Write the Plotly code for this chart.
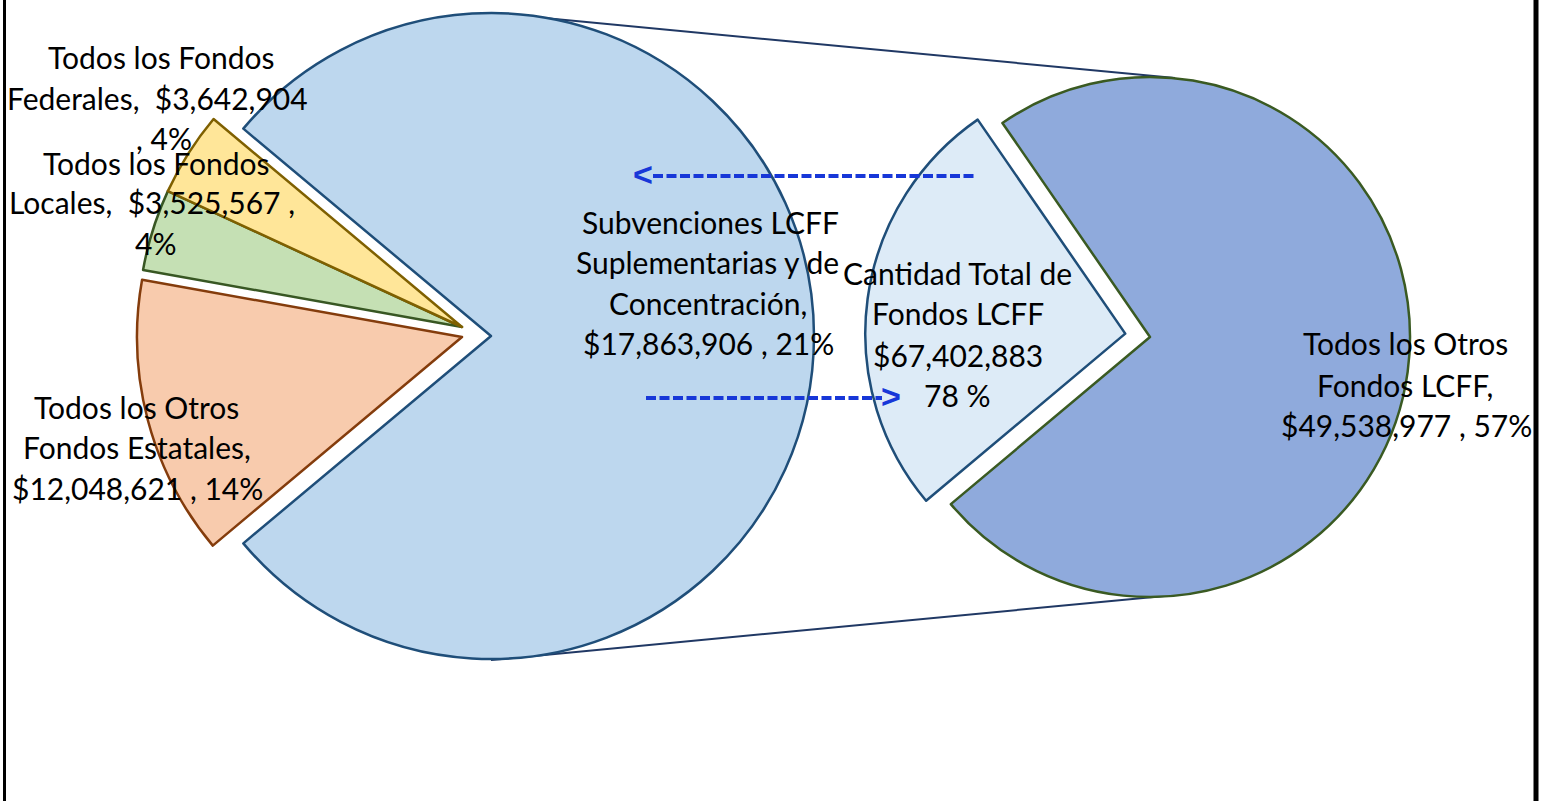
import plotly.graph_objects as go

W, H = 1546, 801

# ---------------- data ----------------
left_labels = ["Todos los Fondos LCFF", "Todos los Otros Fondos Estatales",
               "Todos los Fondos Locales", "Todos los Fondos Federales"]
left_values = [67402883, 12048621, 3525567, 3642904]

right_labels = ["Subvenciones LCFF Suplementarias y de Concentración",
                "Todos los Otros Fondos LCFF"]
right_values = [17863906, 49538977]

total_left = sum(left_values)
pct = lambda v: round(100 * v / total_left)

# ---------------- styles ----------------
FONT = "Lato"
TXT = "#000000"
CLR_BIG, LN_BIG = "#BDD7EE", "#1F4E79"
CLR_STATE, LN_STATE = "#F8CBAD", "#843C0C"
CLR_LOCAL, LN_LOCAL = "#C5E0B4", "#385723"
CLR_FED, LN_FED = "#FFE699", "#7F6000"
CLR_SUB, LN_SUB = "#DDEBF7", "#1F4E79"
CLR_OTH, LN_OTH = "#8FAADC", "#3A5A22"
NONE = "rgba(0,0,0,0)"
ARROW = "#1737D8"
LW = 2.5


def dom(cx, cy, r):
    return dict(x=[(cx - r) / W, (cx + r) / W],
                y=[1 - (cy + r) / H, 1 - (cy - r) / H])


big_frac = left_values[0] / total_left
left_rot = 90 - 180 * big_frac  # centre the LCFF slice on 3 o'clock

fig = go.Figure()


def left_trace(colors, lines, widths, cx, cy, r):
    fig.add_trace(go.Pie(
        labels=left_labels, values=left_values, sort=False,
        direction="clockwise", rotation=left_rot,
        marker=dict(colors=colors, line=dict(color=lines, width=widths)),
        textinfo="none", hoverinfo="label+value+percent", showlegend=False,
        domain=dom(cx, cy, r)))


# LCFF slice (main pie)
left_trace([CLR_BIG, NONE, NONE, NONE], [LN_BIG, NONE, NONE, NONE],
           [LW, 0, 0, 0], 491, 336, 323)
# Federal + Local slices (exploded)
left_trace([NONE, NONE, CLR_LOCAL, CLR_FED], [NONE, NONE, LN_LOCAL, LN_FED],
           [0, 0, LW, LW], 462, 327, 324)
# State slice (exploded)
left_trace([NONE, CLR_STATE, NONE, NONE], [NONE, LN_STATE, NONE, NONE],
           [0, LW, 0, 0], 462, 337, 325)

# second pie
pull_r = 0.096
fig.add_trace(go.Pie(
    labels=right_labels, values=right_values, sort=False,
    direction="clockwise", rotation=-130,
    pull=[pull_r, 0],
    marker=dict(colors=[CLR_SUB, CLR_OTH], line=dict(color=[LN_SUB, LN_OTH], width=LW)),
    textinfo="none", hoverinfo="label+value+percent", showlegend=False,
    domain=dom(1150, 337, 260 * (1 + pull_r))))

# ---------------- labels (one annotation per line) ----------------
fed, loc, sta = left_values[3], left_values[2], left_values[1]
lcff = left_values[0]
sub, oth = right_values

label_lines = [
    ("Todos los Fondos", 161, 67),
    (f"Federales,  ${fed:,}", 157, 108),
    (f", {pct(fed)}%", 164, 148),
    ("Todos los Fondos", 156, 173),
    (f"Locales,  ${loc:,} ,", 152, 212),
    (f"{pct(loc)}%", 155, 253),
    ("Todos los Otros", 136, 417),
    ("Fondos Estatales,", 137, 457),
    (f"${sta:,} , {pct(sta)}%", 137, 498),
    ("Subvenciones LCFF", 710, 232),
    ("Suplementarias y de", 707, 272),
    ("Concentración,", 708, 313),
    (f"${sub:,} , {pct(sub)}%", 708, 353),
    ("Cantidad Total de", 957, 283),
    ("Fondos LCFF", 958, 323),
    (f"${lcff:,}", 958, 365),
    (f"{pct(lcff)} %", 957, 405),
    ("Todos los Otros", 1405, 353),
    ("Fondos LCFF,", 1405, 395),
    (f"${oth:,} , {pct(oth)}%", 1406, 435),
]

FS = 30
annotations = []
for text, x, base in label_lines:
    annotations.append(dict(
        text=text, x=x / W, y=1 - (base - 0.33 * FS) / H, xref="paper", yref="paper",
        xanchor="center", yanchor="middle", showarrow=False,
        font=dict(family=FONT, size=FS, color=TXT)))

# arrow heads
annotations.append(dict(text="<b>&lt;</b>", x=643 / W, y=1 - 174 / H, xref="paper", yref="paper",
                        xanchor="center", yanchor="middle", showarrow=False,
                        font=dict(family="Liberation Sans", size=34, color=ARROW)))
annotations.append(dict(text="<b>&gt;</b>", x=891 / W, y=1 - 396 / H, xref="paper", yref="paper",
                        xanchor="center", yanchor="middle", showarrow=False,
                        font=dict(family="Liberation Sans", size=34, color=ARROW)))

shapes = [
    # series lines
    dict(type="line", xref="paper", yref="paper", x0=491 / W, y0=1 - 13 / H,
         x1=1175 / W, y1=1 - 78 / H, line=dict(color="#203864", width=2), layer="below"),
    dict(type="line", xref="paper", yref="paper", x0=491 / W, y0=1 - 660 / H,
         x1=1175 / W, y1=1 - 595 / H, line=dict(color="#203864", width=2), layer="below"),
    # dashed arrows
    dict(type="line", xref="paper", yref="paper", x0=653 / W, y0=1 - 176 / H,
         x1=977 / W, y1=1 - 176 / H, line=dict(color=ARROW, width=4, dash="10px,3.5px")),
    dict(type="line", xref="paper", yref="paper", x0=646 / W, y0=1 - 398 / H,
         x1=882 / W, y1=1 - 398 / H, line=dict(color=ARROW, width=4, dash="10px,3.5px")),
    # frame
    dict(type="line", xref="paper", yref="paper", x0=4.5 / W, y0=0, x1=4.5 / W, y1=1,
         line=dict(color="black", width=3)),
    dict(type="line", xref="paper", yref="paper", x0=1536 / W, y0=0, x1=1536 / W, y1=1,
         line=dict(color="black", width=5)),
]

fig.update_layout(
    width=W, height=H, margin=dict(l=0, r=0, t=0, b=0),
    paper_bgcolor="white", plot_bgcolor="white",
    annotations=annotations, shapes=shapes, showlegend=False,
)

fig.write_html("out.html", config={"displayModeBar": False},
               post_script="document.body.style.margin='0';document.body.style.overflow='hidden';")
